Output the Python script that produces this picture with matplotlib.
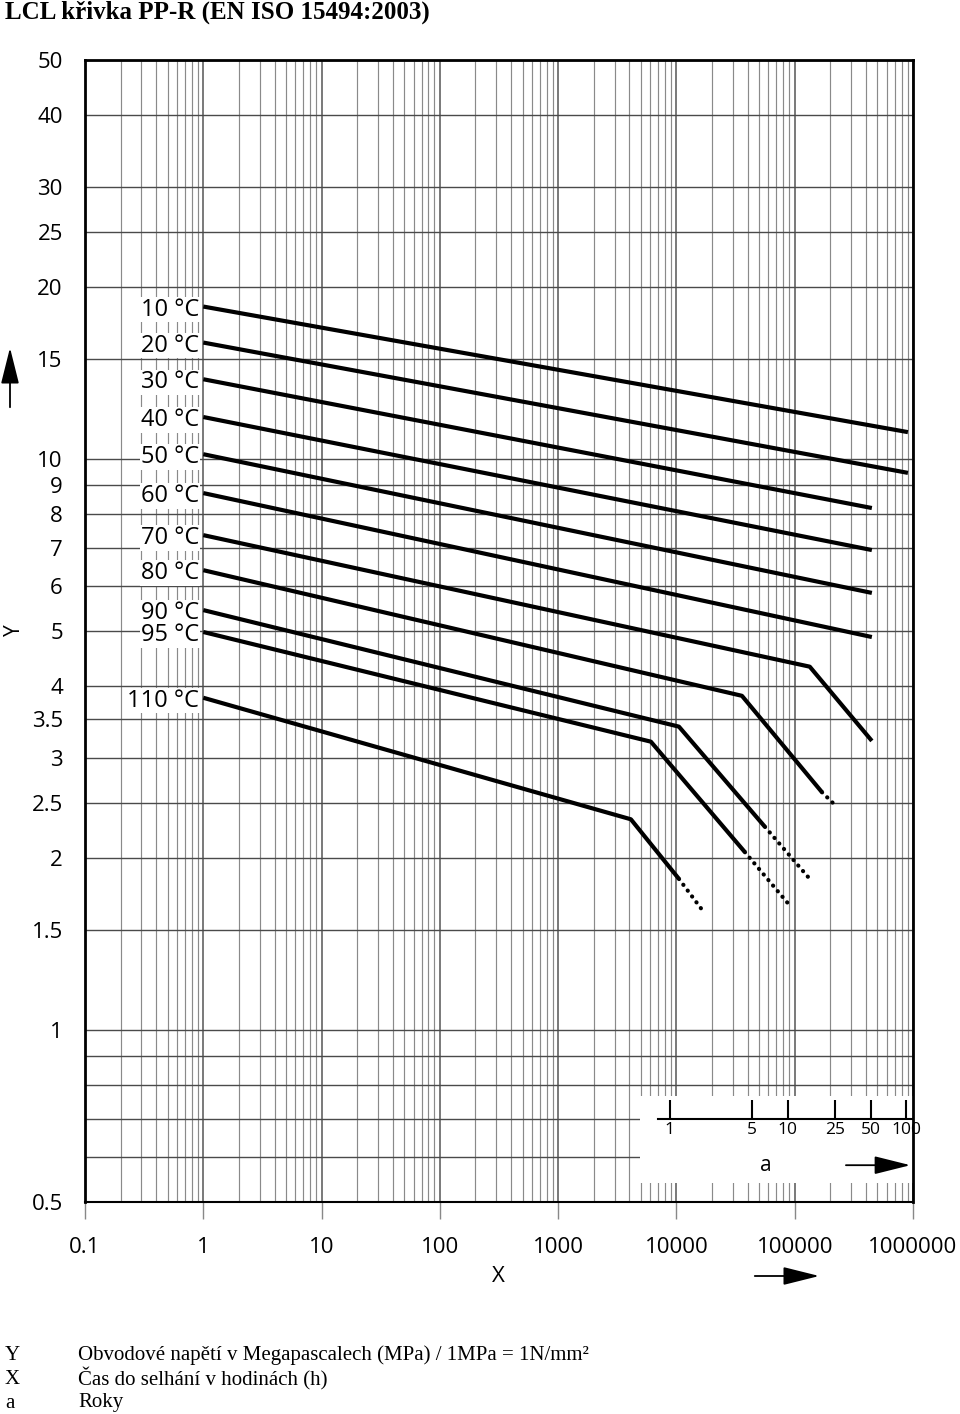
import numpy as np
import matplotlib
matplotlib.use("Agg")
from matplotlib import pyplot as plt
from matplotlib.patches import Rectangle

plt.rcParams['font.family'] = ['Open Sans', 'DejaVu Sans']

# --- data ---
labels = ['10 °C', '20 °C', '30 °C', '40 °C', '50 °C', '60 °C', '70 °C', '80 °C', '90 °C', '95 °C', '110 °C']

# solid part of each curve: hours, MPa
x10, y10 = [1, 9.06e5], [18.5, 11.15]
x20, y20 = [1, 9.06e5], [16.0, 9.46]
x30, y30 = [1, 4.49e5], [13.8, 8.21]
x40, y40 = [1, 4.49e5], [11.85, 6.93]
x50, y50 = [1, 4.49e5], [10.2, 5.83]
x60, y60 = [1, 4.49e5], [8.72, 4.88]
x70, y70 = [1, 1.34e5, 4.49e5], [7.36, 4.33, 3.21]
x80, y80 = [1, 3.58e4, 1.70e5], [6.39, 3.85, 2.61]
x90, y90 = [1, 1.05e4, 5.6e4], [5.44, 3.40, 2.27]
x95, y95 = [1, 6.08e3, 3.79e4], [4.98, 3.20, 2.05]
x110, y110 = [1, 4.12e3, 1.05e4], [3.82, 2.34, 1.84]

# dotted extrapolation (end point only, starts at end of solid part)
dot80 = (2.10e5, 2.50)
dot90 = (1.34e5, 1.84)
dot95 = (8.93e4, 1.66)
dot110 = (1.74e4, 1.60)

curves = [(x10, y10, None), (x20, y20, None), (x30, y30, None), (x40, y40, None),
          (x50, y50, None), (x60, y60, None), (x70, y70, None), (x80, y80, dot80),
          (x90, y90, dot90), (x95, y95, dot95), (x110, y110, dot110)]

xticks = [0.1, 1, 10, 100, 1000, 10000, 100000, 1000000]
xticklabels = ['0.1', '1', '10', '100', '1000', '10000', '100000', '1000000']
yticks = [0.5, 1, 1.5, 2, 2.5, 3, 3.5, 4, 5, 6, 7, 8, 9, 10, 15, 20, 25, 30, 40, 50]
yticklabels = ['0.5', '1', '1.5', '2', '2.5', '3', '3.5', '4', '5', '6', '7', '8', '9', '10',
               '15', '20', '25', '30', '40', '50']
yminor = [0.6, 0.7, 0.8, 0.9]

years = [1, 5, 10, 25, 50, 100]
hours_per_year = 8760

W, H = 960, 1414
fig = plt.figure(figsize=(W / 100, H / 100), dpi=100)
ax = fig.add_axes([85 / W, 1 - 1202 / H, (913 - 85) / W, (1202 - 60) / H])
ax.set_xscale('log')
ax.set_yscale('log')
ax.set_xlim(0.1, 1e6)
ax.set_ylim(0.5, 50)
ax.set_axisbelow(True)

# grid
ax.set_xticks(xticks)
ax.set_xticklabels(xticklabels)
xmin = [m * d for d in xticks[:-1] for m in range(2, 10)]
ax.set_xticks(xmin, minor=True)
ax.set_yticks(yticks)
ax.set_yticklabels(yticklabels)
ax.set_yticks(yminor, minor=True)
ax.grid(True, which='major', axis='x', color='#555555', lw=1.1)
ax.grid(True, which='minor', axis='x', color='#8a8a8a', lw=0.85)
ax.grid(True, which='both', axis='y', color='#4a4a4a', lw=1.0)

ax.tick_params(axis='x', which='major', direction='out', length=12, width=1,
               color='#888888', pad=13, labelsize=16)
ax.tick_params(axis='x', which='minor', length=0)
ax.tick_params(axis='y', which='both', length=0, pad=16, labelsize=16)
ax.yaxis.set_minor_formatter(matplotlib.ticker.NullFormatter())

for s in ['left', 'top', 'right']:
    ax.spines[s].set_linewidth(2.0)
ax.spines['bottom'].set_linewidth(1.5)

# curves
for (xs, ys, dot), name in zip(curves, labels):
    ax.plot(xs, ys, color='black', lw=3, solid_capstyle='butt', zorder=5)
    if dot is not None:
        ax.plot([xs[-1], dot[0]], [ys[-1], dot[1]], color='black', lw=3,
                linestyle=(0, (0.05, 1.7)), dash_capstyle='round', zorder=5)
    ax.annotate(name, xy=(xs[0], ys[0]), xytext=(-3, 0), textcoords='offset points',
                ha='right', va='center_baseline', fontsize=17,
                bbox=dict(fc='white', ec='none', pad=0.5), zorder=4)

# years scale box
ax.add_patch(Rectangle((4900, 0.54), 1e6 - 4900, 0.767 - 0.54, fc='white', ec='none', zorder=1))
ax.plot([6980, 1e6], [0.7, 0.7], color='black', lw=1.5, zorder=3)
yh = [y * hours_per_year for y in years]
ax.vlines(yh, 0.7, 0.755, color='black', lw=1.5, zorder=3)
for y, h in zip(years, yh):
    ax.text(h, 0.668, str(y), ha='center', va='center', fontsize=12.5, zorder=3, clip_on=False)
ax.text(57100, 0.58, 'a', ha='center', va='center', fontsize=15, zorder=3)
ax.annotate('', xy=(9.5e5, 0.58), xytext=(2.71e5, 0.58),
            arrowprops=dict(arrowstyle='-|>,head_length=1.4,head_width=0.35', lw=1.3,
                            color='black', shrinkA=0, shrinkB=0, mutation_scale=16),
            zorder=3)

# axis names and arrows
fig.text(498 / W, 1 - 1276 / H, 'X', ha='center', va='center', fontsize=16)
fig.text(14 / W, 1 - 630 / H, 'Y', ha='center', va='center', fontsize=15, rotation=90)
fig.add_artist(matplotlib.patches.FancyArrowPatch(
    (752 / W, 1 - 1276 / H), (822 / W, 1 - 1276 / H), transform=fig.transFigure,
    arrowstyle='-|>,head_length=1.4,head_width=0.35', mutation_scale=16, lw=1.3, color='black'))
fig.add_artist(matplotlib.patches.FancyArrowPatch(
    (10 / W, 1 - 410 / H), (10 / W, 1 - 345 / H), transform=fig.transFigure,
    arrowstyle='-|>,head_length=1.4,head_width=0.35', mutation_scale=16, lw=1.3, color='black'))

# title and legend
serif = ['Liberation Serif', 'DejaVu Serif']
fig.text(5 / W, 1 - 12 / H, 'LCL křivka PP-R (EN ISO 15494:2003)', ha='left', va='center',
         fontsize=18, fontweight='bold', family=serif)
legend_keys = ['Y', 'X', 'a']
legend_texts = ['Obvodové napětí v Megapascalech (MPa) / 1MPa = 1N/mm²',
                'Čas do selhání v hodinách (h)', 'Roky']
for i, (k, t) in enumerate(zip(legend_keys, legend_texts)):
    yy = 1 - (1355 + 24 * i) / H
    fig.text(5 / W, yy, k, ha='left', va='center', fontsize=15, family=serif)
    fig.text(78 / W, yy, t, ha='left', va='center', fontsize=15, family=serif)

fig.savefig('out.png', dpi=100)
